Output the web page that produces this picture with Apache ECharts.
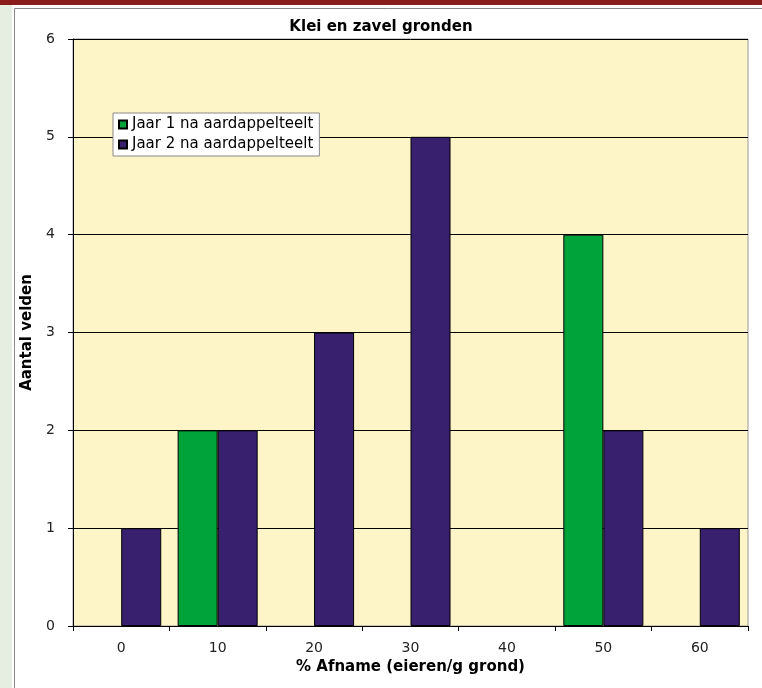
<!DOCTYPE html>
<html><head><meta charset="utf-8">
<script src="https://cdn.jsdelivr.net/npm/echarts@6/dist/echarts.min.js"></script>
<style>html,body{margin:0;padding:0;background:#fff;}#c{width:762px;height:688px;}</style>
</head><body><div id="c"></div>
<script>
const categories = ['0','10','20','30','40','50','60'];
const jaar1 = [0,2,0,0,0,4,0];
const jaar2 = [1,2,3,5,0,2,1];
const seriesNames = ['Jaar 1 na aardappelteelt','Jaar 2 na aardappelteelt'];
const titleText = 'Klei en zavel gronden';
const xName = '% Afname (eieren/g grond)';
const yName = 'Aantal velden';

const font = 'DejaVu Sans';
const hideZero = arr => arr.map(v => v === 0 ? '-' : v);
const chart = echarts.init(document.getElementById('c'), null, {renderer:'canvas'});
chart.setOption({
  animation:false,
  backgroundColor:'#ffffff',
  graphic:[
    {type:'rect', shape:{x:0,y:0,width:762,height:5}, style:{fill:'#8a1c1c'}, z:-10},
    {type:'rect', shape:{x:0,y:5,width:12,height:683}, style:{fill:'#e6eee2'}, z:-10},
    {type:'rect', shape:{x:14.5,y:8.5,width:760,height:700}, style:{fill:'#ffffff',stroke:'#8a8a8a',lineWidth:1}, z:-9}
  ],
  title:{text:titleText,left:'center',top:15,
    textStyle:{fontFamily:font,fontSize:15,fontWeight:'bold',color:'#000'}},
  legend:{orient:'vertical',left:113,top:113,itemWidth:8,itemHeight:8,itemGap:5,
    padding:[4,6,4,5],backgroundColor:'#ffffff',borderColor:'#888',borderWidth:1,
    textStyle:{fontFamily:font,fontSize:15,color:'#000',padding:[0,0,0,0]},
    icon:'rect',data:seriesNames},
  grid:{left:73,right:14,top:39,bottom:62,show:true,backgroundColor:'#fdf5c8',borderColor:'#999',borderWidth:1},
  xAxis:{type:'category',data:categories,name:xName,nameLocation:'middle',nameGap:29,
    nameTextStyle:{fontFamily:font,fontSize:15,fontWeight:'bold',color:'#000'},
    axisLine:{lineStyle:{color:'#000',width:1}},
    axisTick:{show:true,length:5,alignWithLabel:false,lineStyle:{color:'#000'}},
    axisLabel:{fontFamily:font,fontSize:14,color:'#222',margin:15}},
  yAxis:{type:'value',min:0,max:6,interval:1,name:yName,nameLocation:'middle',nameGap:38,
    nameTextStyle:{fontFamily:font,fontSize:15,fontWeight:'bold',color:'#000'},
    axisLine:{show:true,lineStyle:{color:'#000',width:1}},
    axisTick:{show:true,length:5,lineStyle:{color:'#000'}},
    axisLabel:{fontFamily:font,fontSize:14,color:'#222',margin:18},
    splitLine:{show:true,lineStyle:{color:'#000',width:1}}},
  series:[
    {name:seriesNames[0],type:'bar',data:hideZero(jaar1),barGap:'0%',barCategoryGap:'17%',
      itemStyle:{color:'#00a23a',borderColor:'#000',borderWidth:1}},
    {name:seriesNames[1],type:'bar',data:hideZero(jaar2),barGap:'0%',barCategoryGap:'17%',
      itemStyle:{color:'#38206e',borderColor:'#000',borderWidth:1}}
  ]
});
</script></body></html>
